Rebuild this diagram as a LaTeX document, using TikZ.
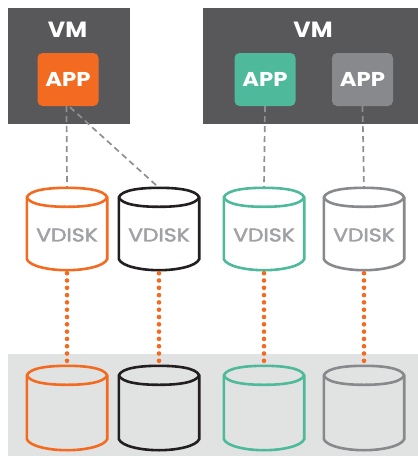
\documentclass[tikz,border=0pt]{standalone}
\usepackage{fontspec}
\setmainfont{Poppins}
\newfontfamily\vdiskfont[FakeBold=2]{Poppins}
\definecolor{vmgray}{HTML}{58585A}
\definecolor{bandgray}{HTML}{E1E3E2}
\definecolor{orangec}{HTML}{F26B21}
\definecolor{tealc}{HTML}{4FBA9B}
\definecolor{grayc}{HTML}{88898D}
\definecolor{blackc}{HTML}{231F20}
\definecolor{labelc}{HTML}{A0A1A5}
\definecolor{dashc}{HTML}{8E8F91}
\newcommand{\cyl}[3][none]{% fill, node name, colour
  \draw[line width=2.6pt,#3,fill=#1]
    ([yshift=-9.5pt]#2.north west)
    .. controls ([yshift=-2pt,xshift=3pt]#2.north west) and ([yshift=0pt,xshift=22pt]#2.north west) .. (#2.north)
    .. controls ([yshift=0pt,xshift=-22pt]#2.north east) and ([yshift=-2pt,xshift=-3pt]#2.north east) .. ([yshift=-9.5pt]#2.north east)
    -- ([yshift=11pt]#2.south east)
    .. controls ([yshift=4pt,xshift=-3pt]#2.south east) and ([xshift=-22pt]#2.south east) .. (#2.south)
    .. controls ([xshift=22pt]#2.south west) and ([yshift=4pt,xshift=3pt]#2.south west) .. ([yshift=11pt]#2.south west)
    -- cycle;
  \draw[line width=2.6pt,#3]
    ([yshift=-9.5pt]#2.north west)
    .. controls ([yshift=-17pt,xshift=3pt]#2.north west) and ([yshift=-19pt,xshift=22pt]#2.north west) .. ([yshift=-19pt]#2.north)
    .. controls ([yshift=-19pt,xshift=-22pt]#2.north east) and ([yshift=-17pt,xshift=-3pt]#2.north east) .. ([yshift=-9.5pt]#2.north east);
}
\tikzset{
  x=1pt,y=-1pt,
  vmbox/.style={fill=vmgray,inner sep=0pt,anchor=north west},
  vmlabel/.style={text=white,font=\fontsize{22}{22}\selectfont\bfseries,inner sep=0pt,anchor=center,xscale=1.08},
  appbox/.style={rounded corners=5pt,minimum width=61pt,minimum height=53pt,inner sep=0pt},
  applabel/.style={text=white,font=\fontsize{20}{20}\selectfont\bfseries,inner sep=0pt,xscale=1.14},
  disknode/.style={minimum width=80pt,minimum height=82pt,inner sep=0pt},
  storenode/.style={minimum width=80pt,minimum height=84pt,inner sep=0pt},
  vdlabel/.style={text=labelc,font=\fontsize{18.5}{18.5}\vdiskfont,inner sep=0pt,xscale=1.18},
  dashlink/.style={dashc,line width=1.7pt,dash pattern=on 6pt off 4pt},
  dotlink/.style={orangec,line width=4.6pt,line cap=round,dash pattern=on 0pt off 7.3pt},
}
\begin{document}
\begin{tikzpicture}
\useasboundingbox (0,0) rectangle (418,456);
\node[vmbox,minimum width=122pt,minimum height=116pt] (vm1) at (7.5,8) {};
\node[vmbox,minimum width=215pt,minimum height=116pt] (vm2) at (203,8) {};
\node[fill=bandgray,inner sep=0pt,anchor=north west,minimum width=410.5pt,minimum height=102pt] (band) at (7.5,354) {};
\node[vmlabel] (vmt1) at (67.5,29.5) {VM};
\node[vmlabel] (vmt2) at (313,29.5) {VM};
\node[appbox,fill=orangec] (a1) at (68,79.5) {};
\node[appbox,fill=tealc] (a2) at (265,79.5) {};
\node[appbox,fill=grayc] (a3) at (362.5,79.5) {};
\node[applabel] (at1) at (68,79) {APP};
\node[applabel] (at2) at (265,79) {APP};
\node[applabel] (at3) at (362.5,79) {APP};
\node[disknode] (d1) at (67,229) {};
\node[disknode] (d2) at (159,229) {};
\node[disknode] (d3) at (264,229) {};
\node[disknode] (d4) at (364,229) {};
\node[storenode] (s1) at (67,408) {};
\node[storenode] (s2) at (159,408) {};
\node[storenode] (s3) at (264,408) {};
\node[storenode] (s4) at (364,408) {};
\draw[dashlink] (a1.south) ++(-1.5,0) -- (d1.north);
\draw[dashlink] (a1.south) ++(2,1) -- (d2.north);
\draw[dashlink] (a2.south) -- (d3.north);
\draw[dashlink] (a3.south) -- (d4.north);
\cyl[white]{d1}{orangec}
\cyl[white]{d2}{blackc}
\cyl[white]{d3}{tealc}
\cyl[white]{d4}{grayc}
\cyl{s1}{orangec}
\cyl{s2}{blackc}
\cyl{s3}{tealc}
\cyl{s4}{grayc}
\node[vdlabel] (v1) at ([yshift=-6pt]d1.center) {VDISK};
\node[vdlabel] (v2) at ([yshift=-6pt]d2.center) {VDISK};
\node[vdlabel] (v3) at ([yshift=-6pt]d3.center) {VDISK};
\node[vdlabel] (v4) at ([yshift=-6pt]d4.center) {VDISK};
\draw[dotlink] (d1.south) ++(0,3) -- (s1.north);
\draw[dotlink] (d2.south) ++(0,3) -- (s2.north);
\draw[dotlink] (d3.south) ++(0,3) -- (s3.north);
\draw[dotlink] (d4.south) ++(0,3) -- (s4.north);
\end{tikzpicture}
\end{document}
